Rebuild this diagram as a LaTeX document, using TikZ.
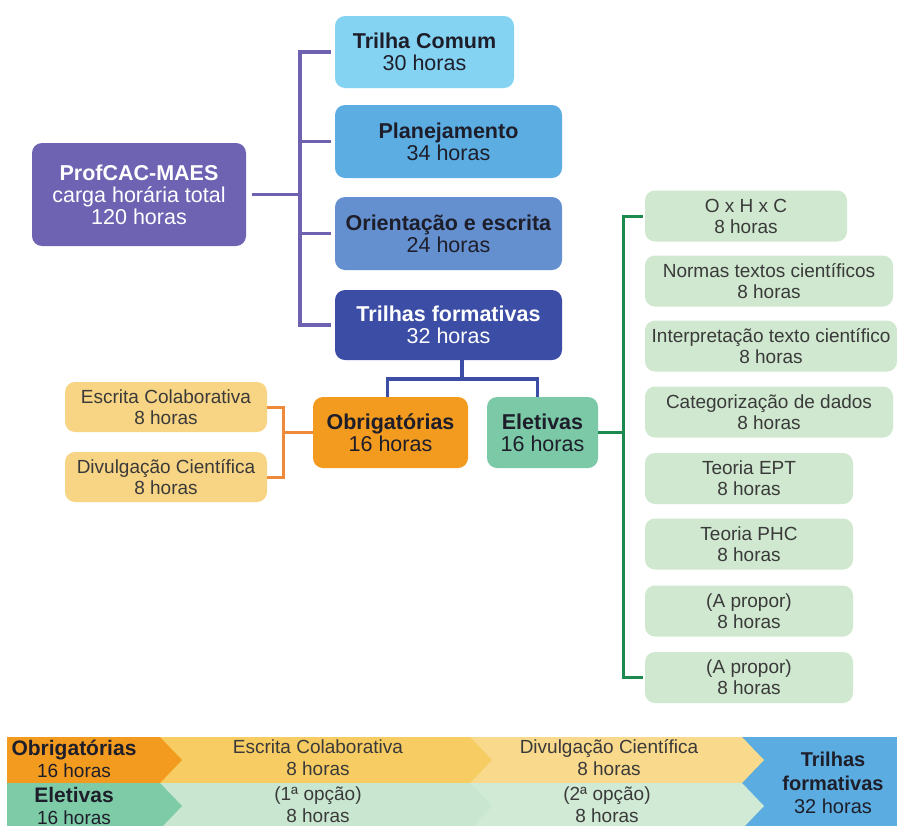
\documentclass[tikz,border=0pt]{standalone}
\usepackage{fontspec}
\setmainfont{Liberation Sans}
\definecolor{cprof}{HTML}{6E63B3}
\definecolor{ctc}{HTML}{84D3F3}
\definecolor{cplan}{HTML}{5BADE2}
\definecolor{cori}{HTML}{6490D0}
\definecolor{ctf}{HTML}{3C4DA6}
\definecolor{cobr}{HTML}{F39B1F}
\definecolor{cele}{HTML}{7BC9A7}
\definecolor{cyel}{HTML}{F8D584}
\definecolor{cgrn}{HTML}{CFE8CF}
\definecolor{lpur}{HTML}{6E62B0}
\definecolor{lor}{HTML}{EE8B3A}
\definecolor{lgr}{HTML}{1C8A4E}
\definecolor{txt}{HTML}{1E1E2A}
\definecolor{txtb}{HTML}{3A3A3A}
\definecolor{sya}{HTML}{F7CC62}
\definecolor{syb}{HTML}{F9D98B}
\definecolor{sga}{HTML}{C9E7D0}
\definecolor{sgb}{HTML}{D0EAD5}
\definecolor{sblue}{HTML}{5BACE0}
\definecolor{sgr}{HTML}{7ECBA7}
\begin{document}
\begin{tikzpicture}[x=1pt,y=-1pt,
  bx/.style={rounded corners=10pt, align=center, inner sep=0pt},
  big/.style={font=\fontsize{21.5}{22}\selectfont},
  small/.style={font=\fontsize{19}{21}\selectfont},
  strip/.style={align=center, inner sep=0pt, text=txtb, font=\fontsize{19}{22}\selectfont},
  gbox/.style={bx, fill=cgrn, text=txtb, small, minimum height=51pt},
  pl/.style={line width=3.5pt, draw=lpur},
  bl/.style={line width=3.5pt, draw=ctf},
  ol/.style={line width=3pt, draw=lor},
  gl/.style={line width=3pt, draw=lgr}]
\useasboundingbox (0,0) rectangle (897,825);
\clip (0,0) rectangle (897,825);
\fill[white] (0,0) rectangle (897,825);

% main boxes
\node[bx, fill=cprof, text=white, big, minimum width=214pt, minimum height=103pt] (prof) at (139,194.5) {\textbf{ProfCAC-MAES}\\carga horária total\\120 horas};
\node[bx, fill=ctc, text=txt, big, minimum width=179pt, minimum height=72pt] (tc) at (424.5,52) {\textbf{Trilha Comum}\\30 horas};
\node[bx, fill=cplan, text=txt, big, minimum width=227pt, minimum height=73pt] (plan) at (448.5,141.5) {\textbf{Planejamento}\\34 horas};
\node[bx, fill=cori, text=txt, big, minimum width=227pt, minimum height=73pt] (ori) at (448.5,233.5) {\textbf{Orientação e escrita}\\24 horas};
\node[bx, fill=ctf, text=white, big, minimum width=227pt, minimum height=70pt] (tf) at (448.5,325) {\textbf{Trilhas formativas}\\32 horas};
\node[bx, fill=cobr, text=txt, big, minimum width=155pt, minimum height=71pt] (obr) at (390.5,432.5) {\textbf{Obrigatórias}\\16 horas};
\node[bx, fill=cele, text=txt, big, minimum width=111pt, minimum height=71pt] (ele) at (542.5,432.5) {\textbf{Eletivas}\\16 horas};
\node[bx, fill=cyel, text=txtb, small, minimum width=202pt, minimum height=50pt] (esc) at (166,407) {Escrita Colaborativa\\8 horas};
\node[bx, fill=cyel, text=txtb, small, minimum width=202pt, minimum height=50pt] (div) at (166,477) {Divulgação Científica\\8 horas};

% green column
\node[gbox, minimum width=202pt] (g1) at (746,216) {O x H x C\\8 horas};
\node[gbox, minimum width=248pt] (g2) at (769,281) {Normas textos científicos\\8 horas};
\node[gbox, minimum width=252pt] (g3) at (771,346) {Interpretação texto científico\\8 horas};
\node[gbox, minimum width=248pt] (g4) at (769,412) {Categorização de dados\\8 horas};
\node[gbox, minimum width=208pt] (g5) at (749,478.5) {Teoria EPT\\8 horas};
\node[gbox, minimum width=208pt] (g6) at (749,544) {Teoria PHC\\8 horas};
\node[gbox, minimum width=208pt] (g7) at (749,611) {(A propor)\\8 horas};
\node[gbox, minimum width=208pt] (g8) at (749,677.5) {(A propor)\\8 horas};

% purple bracket
\coordinate (pj) at (300,194.5);
\draw[pl, shorten <=6pt] (prof.east) -- (pj);
\draw[pl] ([xshift=-4pt]tc.west) -| (pj);
\draw[pl] ([xshift=-4pt]plan.west) -| (pj);
\draw[pl] ([xshift=-4pt]ori.west) -| (pj);
\draw[pl] ([xshift=-4pt]tf.west) -| (pj);

% blue fork
\coordinate (tfd) at (462,360);
\coordinate (bj) at (462,379);
\draw[bl] (tfd) -- (bj);
\draw[bl] ([xshift=-3pt]obr.north) |- (bj);
\draw[bl] ([xshift=-5pt]ele.north) |- (bj);

% orange bracket
\coordinate (oj) at (283,432.5);
\draw[ol] (obr.west) -- (oj);
\draw[ol] (esc.east) -| (oj);
\draw[ol] (div.east) -| (oj);

% green bracket
\coordinate (gj) at (623,432.5);
\draw[gl] (ele.east) -- (gj);
\draw[gl] ([xshift=-2pt]g1.west) -| (gj);
\draw[gl] ([xshift=-2pt]g8.west) -| (gj);

% bottom strip
\fill[sblue] (742,737) rectangle (897,829);
\fill[syb] (470,737) -- (742,737) -- (764,760) -- (742,783) -- (470,783) -- cycle;
\fill[sya] (160,737) -- (470,737) -- (492,760) -- (470,783) -- (160,783) -- cycle;
\fill[cobr] (7,737) -- (160,737) -- (182,760) -- (160,783) -- (7,783) -- cycle;
\fill[sgb] (470,783) -- (742,783) -- (764,806) -- (742,829) -- (470,829) -- cycle;
\fill[sga] (160,783) -- (470,783) -- (492,806) -- (470,829) -- (160,829) -- cycle;
\fill[sgr] (7,783) -- (160,783) -- (182,806) -- (160,829) -- (7,829) -- cycle;

\node[strip, text=txt] (sobr) at (74,759) {{\fontsize{21}{22}\selectfont\bfseries Obrigatórias}\\16 horas};
\node[strip] (sesc) at (318,758) {Escrita Colaborativa\\8 horas};
\node[strip] (sdiv) at (609,758) {Divulgação Científica\\8 horas};
\node[strip, text=txt] (sele) at (74,806) {{\fontsize{21}{22}\selectfont\bfseries Eletivas}\\16 horas};
\node[strip] (s1) at (318,805) {(1ª opção)\\8 horas};
\node[strip] (s2) at (607,805) {(2ª opção)\\8 horas};
\node[strip, text=txt, font=\fontsize{20}{23.5}\selectfont\bfseries] (stf) at (833,783) {Trilhas\\formativas\\\mdseries 32 horas};
\end{tikzpicture}
\end{document}
